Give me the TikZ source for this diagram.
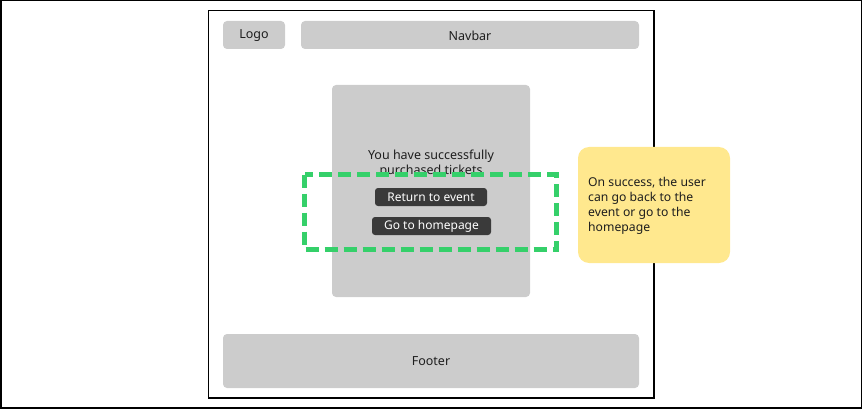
\documentclass[tikz,border=0pt]{standalone}
\usepackage{fontspec}
\setmainfont{Noto Sans}
\definecolor{boxgray}{HTML}{CCCCCC}
\definecolor{btndark}{HTML}{3A3A3A}
\definecolor{dashgreen}{HTML}{35D06A}
\definecolor{noteyellow}{HTML}{FFE88E}
\definecolor{txt}{HTML}{1E1E1E}
\tikzset{
  graybox/.style={fill=boxgray, rounded corners=4pt, draw=none},
  btn/.style={fill=btndark, rounded corners=3pt, text=white, font=\fontsize{12}{14}\selectfont, inner sep=0pt},
  lbl/.style={text=txt, font=\fontsize{12.5}{15}\selectfont, inner sep=0pt},
}
\begin{document}
\begin{tikzpicture}[x=1pt,y=-1pt]
\useasboundingbox (0,0) rectangle (862,409);
% outer border
\draw[line width=1.5pt] (0.75,0.75) rectangle (861.25,407.75);
% page frame
\draw[line width=1.2pt] (208.5,10.5) rectangle (654,398);
% logo & navbar
\fill[graybox] (223,21) rectangle (285,49);
\node[lbl] (logo) at (254,35.5) {Logo};
\fill[graybox] (301,21) rectangle (639,49);
\node[lbl] (navbar) at (470,35.5) {Navbar};
% card
\fill[graybox] (332,85) rectangle (530,297);
\node[lbl, align=center, font=\fontsize{12.5}{15}\selectfont] (msg) at (431,164) {You have successfully\\purchased tickets};
% green dashed selection
\draw[dashgreen, line width=5pt, dash pattern=on 13pt off 6pt] (304.5,174.5) rectangle (556.5,249.5);
% buttons
\fill[btndark, rounded corners=3pt] (375,188) rectangle (487,206);
\node[btn] (ret) at (431,197.5) {Return to event};
\fill[btndark, rounded corners=3pt] (372,217) rectangle (491,235);
\node[btn] (home) at (431.5,226.5) {Go to homepage};
% footer
\fill[graybox] (223,334) rectangle (639,388);
\node[lbl] (footer) at (431,361.5) {Footer};
% note
\fill[noteyellow, rounded corners=11pt] (578,147) rectangle (730,263);
\node[lbl, anchor=north west, align=left, font=\fontsize{12.2}{15}\selectfont] (note) at (588,177.5) {On success, the user\\can go back to the\\event or go to the\\homepage};
\end{tikzpicture}
\end{document}
